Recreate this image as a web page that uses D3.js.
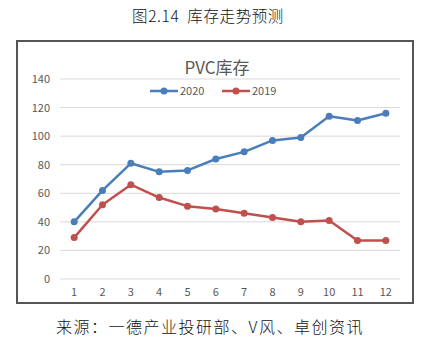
<!DOCTYPE html>
<html><head><meta charset="utf-8">
<script src="https://cdn.jsdelivr.net/npm/d3@7"></script>
<style>body{margin:0;background:#fff}svg{display:block}</style>
</head><body>
<svg id="c" width="425" height="348"></svg>
<script>
const months = ["1","2","3","4","5","6","7","8","9","10","11","12"];
const s2020 = [40, 62, 81, 75, 76, 84, 89, 97, 99, 114, 111, 116];
const s2019 = [29, 52, 66, 57, 51, 49, 46, 43, 40, 41, 27, 27];
const yTicks = [0, 20, 40, 60, 80, 100, 120, 140];
const seriesNames = ["2020", "2019"];
const colors = ["#4A7EBB", "#C0504D"];

const svg = d3.select("#c");
const font = "'Microsoft YaHei','Noto Sans CJK SC',sans-serif";

svg.append("text").attr("x", 208).attr("y", 22).attr("text-anchor", "middle")
  .attr("font-family", "'Noto Sans CJK SC',sans-serif").attr("font-size", 15.5).attr("font-weight", 300)
  .attr("letter-spacing", 0.6).attr("fill", "#111")
  .text("图2.14\u00a0\u00a0库存走势预测");

svg.append("rect").attr("x", 17).attr("y", 41).attr("width", 396).attr("height", 262)
  .attr("fill", "#fff").attr("stroke", "#555").attr("stroke-width", 2);

const x = d3.scaleBand().domain(months).range([60, 400]);
const y = d3.scaleLinear().domain([0, 140]).range([279, 79]);

const g = svg.append("g");
g.selectAll("line.grid").data(yTicks).join("line")
  .attr("x1", 60).attr("x2", 400).attr("y1", d => y(d)).attr("y2", d => y(d))
  .attr("stroke", "#d9d9d9").attr("stroke-width", 1);

const yAxis = d3.axisLeft(y).tickValues(yTicks).tickSize(0).tickPadding(0);
const ya = g.append("g").attr("transform", "translate(50,0)").call(yAxis);
ya.select(".domain").remove();
ya.selectAll("text").attr("font-family", font).attr("font-size", 11).attr("fill", "#595959").attr("text-anchor", "end").attr("dx", 0);

const xAxis = d3.axisBottom(x).tickSize(0).tickPadding(0);
const xa = g.append("g").attr("transform", "translate(0,288)").call(xAxis);
xa.select(".domain").remove();
xa.selectAll("text").attr("font-family", font).attr("font-size", 11).attr("fill", "#595959");

const cx = d => x(d) + x.bandwidth() / 2;
const line = d3.line().x((d, i) => cx(months[i])).y(d => y(d));
[s2020, s2019].forEach((s, k) => {
  g.append("path").datum(s).attr("d", line).attr("fill", "none")
    .attr("stroke", colors[k]).attr("stroke-width", 2.5).attr("stroke-linejoin", "round");
  g.selectAll("circle.s" + k).data(s).join("circle")
    .attr("cx", (d, i) => cx(months[i])).attr("cy", d => y(d)).attr("r", 3.5)
    .attr("fill", colors[k]);
});

svg.append("text").attr("x", 217).attr("y", 74).attr("text-anchor", "middle")
  .attr("font-family", font).attr("font-size", 17).attr("fill", "#595959").text("PVC库存");

const leg = [{x: 150}, {x: 222}];
seriesNames.forEach((n, k) => {
  const lx = leg[k].x;
  svg.append("line").attr("x1", lx).attr("x2", lx + 28).attr("y1", 91).attr("y2", 91)
    .attr("stroke", colors[k]).attr("stroke-width", 2.5);
  svg.append("circle").attr("cx", lx + 14).attr("cy", 91).attr("r", 3.5).attr("fill", colors[k]);
  svg.append("text").attr("x", lx + 30).attr("y", 95).attr("font-family", font)
    .attr("font-size", 11).attr("fill", "#595959").text(n);
});

svg.append("text").attr("x", 210).attr("y", 333).attr("text-anchor", "middle")
  .attr("font-family", "'Noto Sans CJK SC',sans-serif").attr("font-size", 16).attr("font-weight", 300)
  .attr("letter-spacing", 1.5).attr("fill", "#111")
  .text("来源：一德产业投研部、V风、卓创资讯");
</script>
</body></html>
